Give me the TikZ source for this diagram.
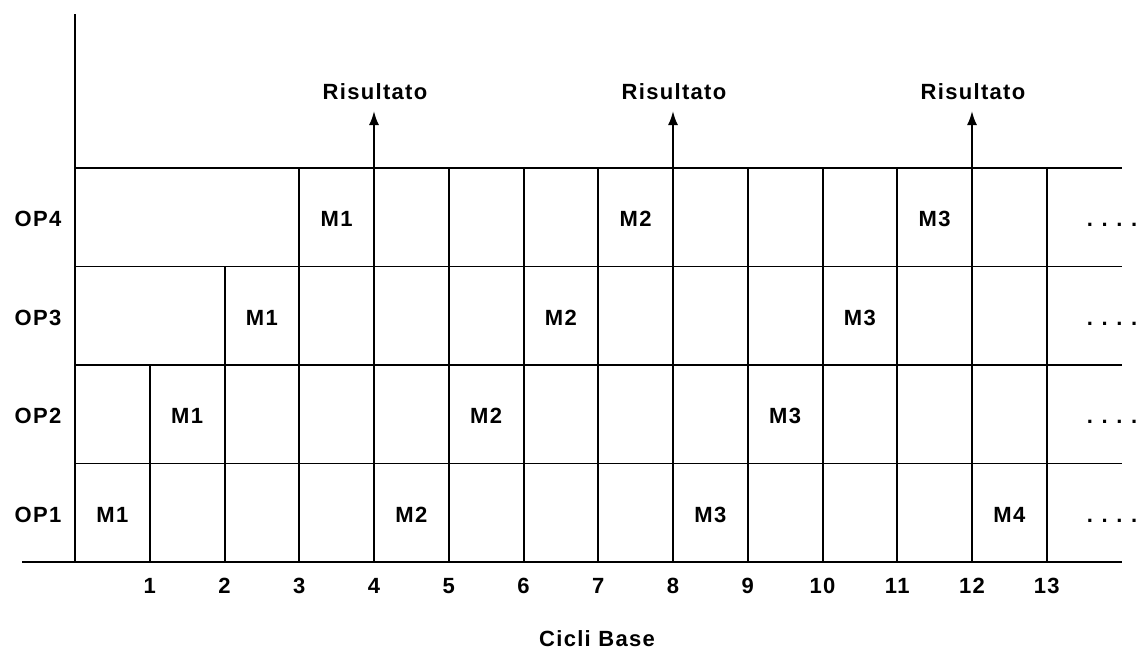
\documentclass[tikz,border=0pt]{standalone}
\usepackage{fontspec}
\setmainfont{Liberation Sans}[LetterSpace=6]
\usetikzlibrary{arrows.meta}

\tikzset{
  lbl/.style={font=\bfseries\fontsize{11}{13}\selectfont,
    text height=7.9pt,text depth=0pt,inner sep=0pt},
  rowline/.style={line width=0.7pt},
  colline/.style={line width=1pt},
}

\begin{document}
\begin{tikzpicture}[x=0.5pt,y=-0.5pt]
\useasboundingbox (0,0) rectangle (1141,650);
% column lines: bottom ends
\coordinate (b0) at (75.00,562);
\coordinate (b1) at (149.75,562);
\coordinate (b2) at (224.50,562);
\coordinate (b3) at (299.25,562);
\coordinate (b4) at (374.00,562);
\coordinate (b5) at (448.75,562);
\coordinate (b6) at (523.50,562);
\coordinate (b7) at (598.25,562);
\coordinate (b8) at (673.00,562);
\coordinate (b9) at (747.75,562);
\coordinate (b10) at (822.50,562);
\coordinate (b11) at (897.25,562);
\coordinate (b12) at (972.00,562);
\coordinate (b13) at (1046.75,562);
% column lines: top ends
\coordinate (a0) at (75.00,14);
\coordinate (t1) at (149.75,365);
\coordinate (t2) at (224.50,266.5);
\coordinate (t3) at (299.25,168);
\coordinate (t4) at (374.00,168);
\coordinate (t5) at (448.75,168);
\coordinate (t6) at (523.50,168);
\coordinate (t7) at (598.25,168);
\coordinate (t8) at (673.00,168);
\coordinate (t9) at (747.75,168);
\coordinate (t10) at (822.50,168);
\coordinate (t11) at (897.25,168);
\coordinate (t12) at (972.00,168);
\coordinate (t13) at (1046.75,168);
% arrow ends
\coordinate (r4) at (374.00,111);
\coordinate (r8) at (673.00,111);
\coordinate (r12) at (972.00,111);
% row lines
\coordinate (s0) at (22,562);
\coordinate (s1) at (75,463.5);
\coordinate (s2) at (75,365);
\coordinate (s3) at (75,266.5);
\coordinate (s4) at (75,168);
\coordinate (e0) at (1122,562);
\coordinate (e1) at (1122,463.5);
\coordinate (e2) at (1122,365);
\coordinate (e3) at (1122,266.5);
\coordinate (e4) at (1122,168);

\draw [rowline] (s0) -- (e0);
\draw [rowline] (s1) -- (e1);
\draw [rowline] (s2) -- (e2);
\draw [rowline] (s3) -- (e3);
\draw [rowline] (s4) -- (e4);

\draw [colline] (a0) -- (b0);
\draw [colline] (t1) -- (b1);
\draw [colline] (t2) -- (b2);
\draw [colline] (t3) -- (b3);
\draw [colline] (t5) -- (b5);
\draw [colline] (t6) -- (b6);
\draw [colline] (t7) -- (b7);
\draw [colline] (t9) -- (b9);
\draw [colline] (t10) -- (b10);
\draw [colline] (t11) -- (b11);
\draw [colline] (t13) -- (b13);
\draw [colline,-{Latex[length=7pt,width=5pt]}] (b4) -- (r4);
\draw [colline,-{Latex[length=7pt,width=5pt]}] (b8) -- (r8);
\draw [colline,-{Latex[length=7pt,width=5pt]}] (b12) -- (r12);

\node [lbl] (res1) at (375,91.5) {Risultato};
\node [lbl] (res2) at (674,91.5) {Risultato};
\node [lbl] (res3) at (973,91.5) {Risultato};

% operations
\node [lbl] (op1) at (38,514.25) {OP1};
\node [lbl] (op2) at (38,415.75) {OP2};
\node [lbl] (op3) at (38,317.25) {OP3};
\node [lbl] (op4) at (38,218.75) {OP4};

% stages
\node [lbl] (m1a) at (112.4,514.25) {M1};
\node [lbl] (m2a) at (411.4,514.25) {M2};
\node [lbl] (m3a) at (710.4,514.25) {M3};
\node [lbl] (m4a) at (1009.4,514.25) {M4};
\node [lbl] (m1b) at (187.1,415.75) {M1};
\node [lbl] (m2b) at (486.1,415.75) {M2};
\node [lbl] (m3b) at (785.1,415.75) {M3};
\node [lbl] (m1c) at (261.9,317.25) {M1};
\node [lbl] (m2c) at (560.9,317.25) {M2};
\node [lbl] (m3c) at (859.9,317.25) {M3};
\node [lbl] (m1d) at (336.6,218.75) {M1};
\node [lbl] (m2d) at (635.6,218.75) {M2};
\node [lbl] (m3d) at (934.6,218.75) {M3};

\node [lbl] (more1) at (1112,514.25) {.\hspace{4.3pt}.\hspace{4.3pt}.\hspace{4.3pt}.};
\node [lbl] (more2) at (1112,415.75) {.\hspace{4.3pt}.\hspace{4.3pt}.\hspace{4.3pt}.};
\node [lbl] (more3) at (1112,317.25) {.\hspace{4.3pt}.\hspace{4.3pt}.\hspace{4.3pt}.};
\node [lbl] (more4) at (1112,218.75) {.\hspace{4.3pt}.\hspace{4.3pt}.\hspace{4.3pt}.};

% cycle numbers
\node [lbl] (n1) at (149.75,586) {1};
\node [lbl] (n2) at (224.50,586) {2};
\node [lbl] (n3) at (299.25,586) {3};
\node [lbl] (n4) at (374.00,586) {4};
\node [lbl] (n5) at (448.75,586) {5};
\node [lbl] (n6) at (523.50,586) {6};
\node [lbl] (n7) at (598.25,586) {7};
\node [lbl] (n8) at (673.00,586) {8};
\node [lbl] (n9) at (747.75,586) {9};
\node [lbl] (n10) at (822.50,586) {10};
\node [lbl] (n11) at (897.25,586) {11};
\node [lbl] (n12) at (972.00,586) {12};
\node [lbl] (n13) at (1046.75,586) {13};

\node [lbl] (cicli) at (597,639) {Cicli Base};
\end{tikzpicture}
\end{document}
